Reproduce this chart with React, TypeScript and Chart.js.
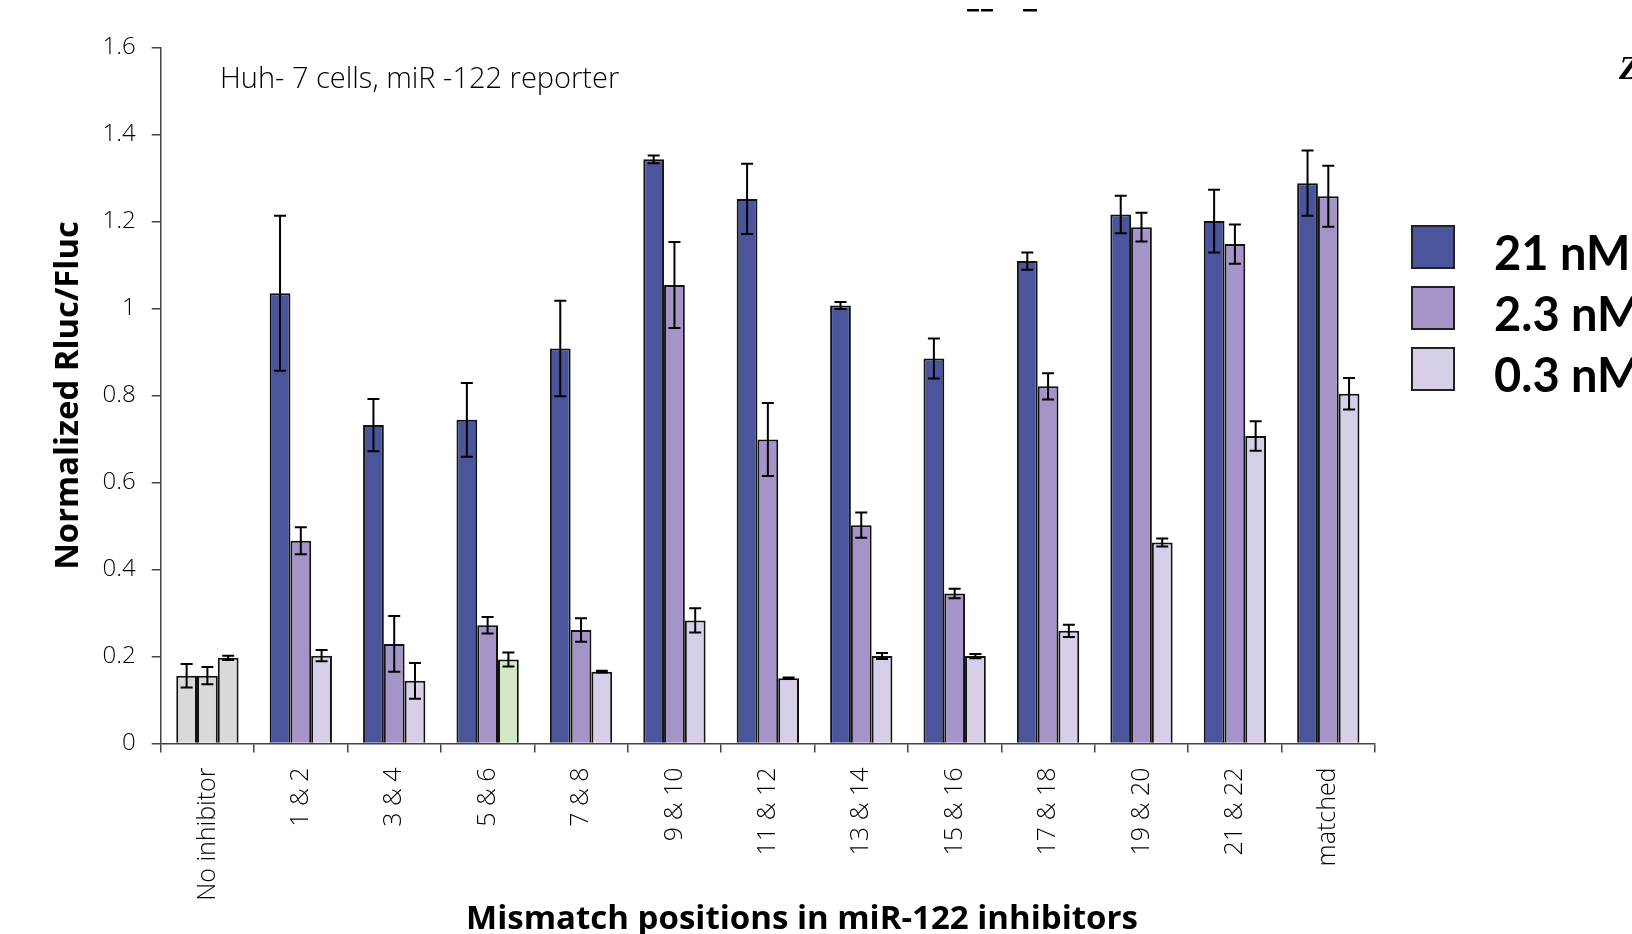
import React, { useEffect, useRef } from "react";
import { Chart, registerables } from "chart.js";

Chart.register(...registerables);

const categories = ["No inhibitor", "1 & 2", "3 & 4", "5 & 6", "7 & 8", "9 & 10", "11 & 12", "13 & 14", "15 & 16", "17 & 18", "19 & 20", "21 & 22", "matched"];
const seriesLabels = ["21 nM", "2.3 nM", "0.3 nM"];

const values21 = [0.156, 1.035, 0.732, 0.744, 0.908, 1.343, 1.252, 1.007, 0.885, 1.109, 1.216, 1.201, 1.288];
const errors21 = [0.027, 0.178, 0.060, 0.085, 0.110, 0.009, 0.081, 0.008, 0.046, 0.020, 0.043, 0.072, 0.075];
const values23 = [0.156, 0.466, 0.229, 0.272, 0.261, 1.054, 0.699, 0.502, 0.345, 0.821, 1.187, 1.148, 1.258];
const errors23 = [0.020, 0.031, 0.064, 0.019, 0.027, 0.099, 0.084, 0.029, 0.011, 0.030, 0.033, 0.045, 0.070];
const values03 = [0.197, 0.202, 0.144, 0.193, 0.165, 0.283, 0.150, 0.201, 0.201, 0.259, 0.462, 0.707, 0.804];
const errors03 = [0.005, 0.013, 0.041, 0.016, 0.002, 0.028, 0.002, 0.007, 0.005, 0.014, 0.009, 0.034, 0.036];

const yTicks = [0, 0.2, 0.4, 0.6, 0.8, 1, 1.2, 1.4, 1.6];

const colors = ["#4b559c", "#a594c7", "#d6cfe7"];
const controlColor = "#d8d9db";
const highlightColor = "#d3e8c5";

const yTitle = "Normalized Rluc/Fluc";
const xTitle = "Mismatch positions in miR-122 inhibitors";
const annotation = "Huh- 7 cells, miR -122 reporter";

const FONT = "'Open Sans', Lato, sans-serif";
const LEGEND_FONT = "Lato, 'Open Sans', sans-serif";

function barColors(seriesIndex: number): string[] {
  return categories.map((c, i) => {
    if (i === 0) return controlColor;
    if (seriesIndex === 2 && c === "5 & 6") return highlightColor;
    return colors[seriesIndex];
  });
}

const errorsAll = [errors21, errors23, errors03];

const errorBarPlugin = {
  id: "errorBars",
  afterDatasetsDraw(chart: any) {
    const ctx = chart.ctx;
    const y = chart.scales.y;
    ctx.save();
    ctx.strokeStyle = "#000";
    ctx.lineWidth = 2;
    chart.data.datasets.forEach((ds: any, di: number) => {
      const meta = chart.getDatasetMeta(di);
      meta.data.forEach((el: any, i: number) => {
        const v = ds.data[i];
        const e = errorsAll[di][i];
        const top = y.getPixelForValue(v + e);
        const bot = y.getPixelForValue(v - e);
        const x = el.x;
        ctx.beginPath();
        ctx.moveTo(x, top);
        ctx.lineTo(x, bot);
        ctx.moveTo(x - 6, top);
        ctx.lineTo(x + 6, top);
        ctx.moveTo(x - 6, bot);
        ctx.lineTo(x + 6, bot);
        ctx.stroke();
      });
    });
    ctx.restore();
  },
};

const textPlugin = {
  id: "texts",
  afterDraw(chart: any) {
    const ctx = chart.ctx;
    const area = chart.chartArea;
    ctx.save();
    // annotation
    ctx.fillStyle = "#000";
    ctx.font = `300 29px ${FONT}`;
    ctx.textAlign = "left";
    ctx.textBaseline = "middle";
    ctx.fillText(annotation, 220, 80);

    // y title
    ctx.save();
    ctx.translate(69, (area.top + area.bottom) / 2);
    ctx.rotate(-Math.PI / 2);
    ctx.font = `bold 32.8px ${FONT}`;
    ctx.textAlign = "center";
    ctx.textBaseline = "middle";
    ctx.fillStyle = "#000";
    ctx.fillText(yTitle, 0, 0);
    ctx.restore();

    // x title
    ctx.font = `bold 33px ${FONT}`;
    ctx.textAlign = "center";
    ctx.textBaseline = "alphabetic";
    ctx.fillStyle = "#000";
    ctx.fillText(xTitle, 802, 929);

    // legend
    chart.data.datasets.forEach((ds: any, i: number) => {
      const bx = 1412;
      const by = 226 + i * 61;
      ctx.fillStyle = colors[i];
      ctx.fillRect(bx, by, 42, 42);
      ctx.strokeStyle = "#222";
      ctx.lineWidth = 2;
      ctx.strokeRect(bx, by, 42, 42);
      ctx.fillStyle = "#000";
      ctx.font = `bold 47px ${LEGEND_FONT}`;
      ctx.textAlign = "left";
      ctx.textBaseline = "alphabetic";
      ctx.fillText(ds.label, 1494, by + 44);
    });

    // cut-off fragments at the page edges
    ctx.font = `italic bold 34px 'Liberation Serif', serif`;
    ctx.textAlign = "left";
    ctx.fillText("Z", 1619, 79);
    ctx.fillStyle = "#000";
    ctx.fillRect(967, 9, 12, 2.5);
    ctx.fillRect(981, 9, 12, 2.5);
    ctx.fillRect(1023, 9, 14, 2.5);
    ctx.restore();
  },
};

export default function App() {
  const ref = useRef<HTMLCanvasElement | null>(null);
  useEffect(() => {
    if (!ref.current) return;
    const chart = new Chart(ref.current, {
      type: "bar",
      data: {
        labels: categories,
        datasets: [
          { label: seriesLabels[0], data: values21, backgroundColor: barColors(0) },
          { label: seriesLabels[1], data: values23, backgroundColor: barColors(1) },
          { label: seriesLabels[2], data: values03, backgroundColor: barColors(2) },
        ].map((d) => ({ ...d, borderColor: "#111", borderWidth: 2, borderSkipped: "bottom", categoryPercentage: 0.667, barPercentage: 1.0 })),
      },
      options: {
        animation: false,
        responsive: false,
        devicePixelRatio: 1,
        layout: { padding: { left: 0, right: 257, top: 47.5, bottom: 0 } },
        plugins: { legend: { display: false }, tooltip: { enabled: false }, title: { display: false } },
        scales: {
          x: {
            grid: { drawOnChartArea: false, drawTicks: true, tickLength: 9, color: "#444", lineWidth: 1.5, offset: true },
            border: { display: true, color: "#444", width: 1.5 },
            ticks: {
              autoSkip: false,
              maxRotation: 90,
              minRotation: 90,
              padding: 15,
              color: "#000",
              font: { family: FONT, size: 25, weight: "300" },
            },
            afterFit: (scale: any) => { scale.height = 190.5; },
          },
          y: {
            min: 0,
            max: 1.6,
            afterBuildTicks: (scale: any) => { scale.ticks = yTicks.map((v) => ({ value: v })); },
            grid: { drawOnChartArea: false, drawTicks: true, tickLength: 9, color: "#444", lineWidth: 1.5 },
            border: { display: true, color: "#444", width: 1.5 },
            ticks: {
              padding: 16,
              color: "#000",
              font: { family: FONT, size: 24, weight: "300" },
              callback: (v: any) => String(Math.round(Number(v) * 10) / 10),
            },
            afterFit: (scale: any) => { scale.width = 160.7; },
          },
        },
      },
      plugins: [errorBarPlugin, textPlugin],
    });
    return () => chart.destroy();
  }, []);
  return (
    <div style={{ position: "fixed", left: 0, top: 0, width: 1632, height: 934, background: "#fff" }}>
      <canvas ref={ref} width={1632} height={934} style={{ width: 1632, height: 934, display: "block" }} />
    </div>
  );
}
